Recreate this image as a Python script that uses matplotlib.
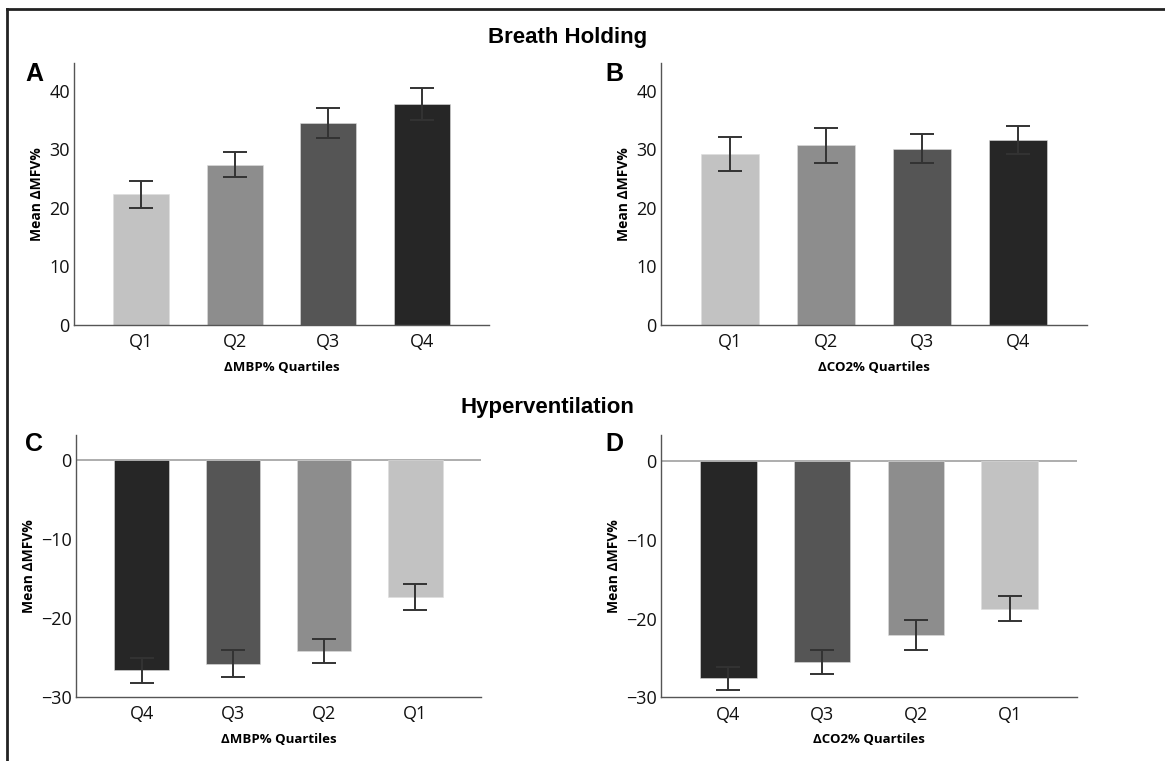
import matplotlib.pyplot as plt
from matplotlib.lines import Line2D

plt.rcParams['font.family'] = ['Open Sans', 'DejaVu Sans']

# Breath holding (A, B) - quartiles Q1..Q4
bh_labels = ['Q1', 'Q2', 'Q3', 'Q4']
bh_mbp_mean = [22.3, 27.4, 34.5, 37.7]
bh_mbp_err = [2.3, 2.15, 2.55, 2.75]
bh_co2_mean = [29.2, 30.7, 30.1, 31.6]
bh_co2_err = [2.95, 2.95, 2.5, 2.4]

# Hyperventilation (C, D) - quartiles shown in order Q4..Q1
hv_labels = ['Q4', 'Q3', 'Q2', 'Q1']
hv_mbp_mean = [-26.65, -25.8, -24.2, -17.4]
hv_mbp_err = [1.6, 1.7, 1.5, 1.65]
hv_co2_mean = [-27.6, -25.55, -22.1, -18.75]
hv_co2_err = [1.5, 1.55, 1.9, 1.6]

gray = {'Q1': '#c2c2c2', 'Q2': '#8d8d8d', 'Q3': '#555555', 'Q4': '#262626'}

fig = plt.figure(figsize=(11.65, 7.61), dpi=100)

W, H = 1165, 761


def px_axes(x0, y0, x1, y1):
    return fig.add_axes([x0 / W, 1 - y1 / H, (x1 - x0) / W, (y1 - y0) / H])


def panel(ax, labels, means, errs, ylim, yticks, xlabel, zero_line=False):
    x = range(len(labels))
    ax.bar(x, means, width=0.6, color=[gray[l] for l in labels],
           edgecolor='#dddddd', linewidth=0.4, zorder=2)
    ax.errorbar(x, means, yerr=errs, fmt='none', ecolor='#333333',
                elinewidth=1.4, capsize=8.3, capthick=1.4, zorder=3)
    ax.set_xlim(-0.72, 3.72)
    ax.set_ylim(*ylim)
    ax.set_yticks(yticks)
    ax.set_yticklabels([str(t).replace('-', '\u2212') for t in yticks])
    ax.set_xticks(list(x))
    ax.set_xticklabels(labels)
    ax.tick_params(length=0, labelsize=13, pad=3, colors='#111111')
    ax.tick_params(axis='x', pad=6)
    for s in ['top', 'right']:
        ax.spines[s].set_visible(False)
    for s in ['left', 'bottom']:
        ax.spines[s].set_color('#555555')
        ax.spines[s].set_linewidth(1.0)
    if zero_line:
        ax.axhline(0, color='#a0a0a0', lw=1.2, zorder=1)
    ax.set_xlabel(xlabel, fontsize=9.5, fontweight='bold', labelpad=7)
    ax.set_ylabel('Mean \u0394MFV%', fontsize=10, fontweight='bold', labelpad=4)


axA = px_axes(74, 63, 489, 324.5)
panel(axA, bh_labels, bh_mbp_mean, bh_mbp_err, (0, 44.8), [0, 10, 20, 30, 40],
      '\u0394MBP% Quartiles')
axB = px_axes(661, 63, 1087, 324.5)
panel(axB, bh_labels, bh_co2_mean, bh_co2_err, (0, 44.8), [0, 10, 20, 30, 40],
      '\u0394CO2% Quartiles')
axC = px_axes(76, 435, 481, 696.7)
panel(axC, hv_labels, hv_mbp_mean, hv_mbp_err, (-30, 3.2), [-30, -20, -10, 0],
      '\u0394MBP% Quartiles', zero_line=True)
axD = px_axes(661, 435, 1077, 697.3)
panel(axD, hv_labels, hv_co2_mean, hv_co2_err, (-30, 3.3), [-30, -20, -10, 0],
      '\u0394CO2% Quartiles', zero_line=True)

tfont = dict(family=['Liberation Sans', 'DejaVu Sans'], fontweight='bold')
fig.text(568 / W, 1 - 38 / H, 'Breath Holding', ha='center', va='center', fontsize=16, **tfont)
fig.text(547 / W, 1 - 408 / H, 'Hyperventilation', ha='center', va='center', fontsize=16, **tfont)
for lab, (px, py) in {'A': (34, 74), 'B': (614, 74), 'C': (34, 444), 'D': (614, 444)}.items():
    fig.text(px / W, 1 - py / H, lab, ha='center', va='center', fontsize=18, **tfont)

# outer frame (top and left edges)
fig.add_artist(Line2D([7 / W, 1], [1 - 8.5 / H, 1 - 8.5 / H], color='#222222', lw=2))
fig.add_artist(Line2D([7 / W, 7 / W], [0, 1 - 8.5 / H], color='#222222', lw=2))

fig.savefig('out.png', dpi=100)
